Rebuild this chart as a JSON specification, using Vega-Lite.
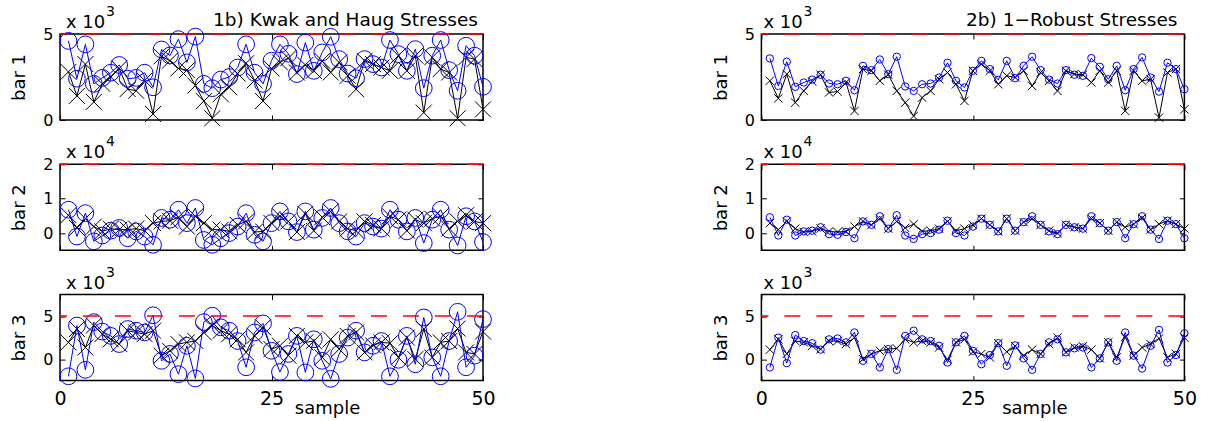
{
"$schema": "https://vega.github.io/schema/vega-lite/v6.json",
"padding": {"top": 4, "left": 10, "right": 5, "bottom": 5},
"background": "white",
"bounds": "flush",
"columns": 2,
"spacing": {"row": 44.3, "column": 278.4},
"config": {
 "font": "DejaVu Sans",
 "view": {"stroke": "black", "strokeWidth": 1.5},
 "axis": {"domain": false, "grid": false, "tickColor": "black", "tickSize": -5, "tickWidth": 1, "labelColor": "black", "titleColor": "black", "titleFontWeight": "normal", "labelFlush": false, "labelFont": "DejaVu Sans", "titleFont": "DejaVu Sans"},
 "axisX": {"labelFontSize": 19, "labelPadding": 14, "titleFontSize": 18},
 "axisY": {"labelFontSize": 16, "labelPadding": 12, "titleFontSize": 18, "titlePadding": 14},
 "text": {"font": "DejaVu Sans", "color": "black"}
},
"datasets": {
 "b1": [
  {"s":1,"lk":2800,"lb":4600,"rk":2280,"rb":3580},
  {"s":2,"lk":1400,"lb":2400,"rk":1260,"rb":1980},
  {"s":3,"lk":3250,"lb":4400,"rk":2670,"rb":3390},
  {"s":4,"lk":1050,"lb":2100,"rk":1010,"rb":1930},
  {"s":5,"lk":2100,"lb":2450,"rk":1690,"rb":2180},
  {"s":6,"lk":2500,"lb":2750,"rk":2240,"rb":2350},
  {"s":7,"lk":3000,"lb":3200,"rk":2630,"rb":2630},
  {"s":8,"lk":1800,"lb":2400,"rk":1600,"rb":2120},
  {"s":9,"lk":1700,"lb":2450,"rk":1650,"rb":2080},
  {"s":10,"lk":2300,"lb":2750,"rk":2180,"rb":2280},
  {"s":11,"lk":350,"lb":1900,"rk":530,"rb":1730},
  {"s":12,"lk":3700,"lb":4100,"rk":2960,"rb":3150},
  {"s":13,"lk":3450,"lb":3750,"rk":2860,"rb":2900},
  {"s":14,"lk":3000,"lb":4700,"rk":2280,"rb":3520},
  {"s":15,"lk":2900,"lb":3350,"rk":2630,"rb":2670},
  {"s":16,"lk":2000,"lb":4850,"rk":1690,"rb":3680},
  {"s":17,"lk":1100,"lb":2100,"rk":1010,"rb":1950},
  {"s":18,"lk":100,"lb":1850,"rk":230,"rb":1690},
  {"s":19,"lk":1500,"lb":2350,"rk":1300,"rb":2080},
  {"s":20,"lk":1900,"lb":2500,"rk":1690,"rb":2120},
  {"s":21,"lk":2700,"lb":3050,"rk":2370,"rb":2470},
  {"s":22,"lk":3300,"lb":4400,"rk":2760,"rb":3330},
  {"s":23,"lk":2300,"lb":2750,"rk":2080,"rb":2280},
  {"s":24,"lk":1100,"lb":2100,"rk":1110,"rb":1890},
  {"s":25,"lk":3000,"lb":3450,"rk":2860,"rb":2860},
  {"s":26,"lk":3350,"lb":4400,"rk":3250,"rb":3440},
  {"s":27,"lk":3600,"lb":3850,"rk":2860,"rb":2960},
  {"s":28,"lk":2760,"lb":2670,"rk":2080,"rb":2330},
  {"s":29,"lk":3200,"lb":4500,"rk":2570,"rb":3440},
  {"s":30,"lk":2860,"lb":2860,"rk":2470,"rb":2430},
  {"s":31,"lk":3440,"lb":3930,"rk":2860,"rb":3150},
  {"s":32,"lk":2760,"lb":4840,"rk":1980,"rb":3680},
  {"s":33,"lk":3350,"lb":3540,"rk":2760,"rb":2900},
  {"s":34,"lk":2570,"lb":2700,"rk":2280,"rb":2350},
  {"s":35,"lk":1790,"lb":2430,"rk":1690,"rb":2120},
  {"s":36,"lk":3440,"lb":3540,"rk":2860,"rb":2900},
  {"s":37,"lk":3250,"lb":3250,"rk":2670,"rb":2630},
  {"s":38,"lk":3050,"lb":3050,"rk":2630,"rb":2570},
  {"s":39,"lk":2860,"lb":4650,"rk":2180,"rb":3600},
  {"s":40,"lk":3740,"lb":3830,"rk":2860,"rb":3090},
  {"s":41,"lk":2860,"lb":2860,"rk":2180,"rb":2370},
  {"s":42,"lk":3740,"lb":4120,"rk":2860,"rb":3150},
  {"s":43,"lk":430,"lb":1850,"rk":530,"rb":1730},
  {"s":44,"lk":3640,"lb":3740,"rk":2860,"rb":2960},
  {"s":45,"lk":2960,"lb":4650,"rk":2280,"rb":3640},
  {"s":46,"lk":2760,"lb":2900,"rk":2370,"rb":2470},
  {"s":47,"lk":100,"lb":1700,"rk":140,"rb":1650},
  {"s":48,"lk":3640,"lb":4320,"rk":2760,"rb":3330},
  {"s":49,"lk":3540,"lb":3740,"rk":2960,"rb":2960},
  {"s":50,"lk":620,"lb":1930,"rk":620,"rb":1790}
 ],
 "b2": [
  {"s":1,"lk":5200,"lb":6800,"rk":2900,"rb":4600},
  {"s":2,"lk":1500,"lb":-1000,"rk":1000,"rb":-700},
  {"s":3,"lk":4200,"lb":5800,"rk":3400,"rb":3900},
  {"s":4,"lk":1900,"lb":-2400,"rk":1300,"rb":-700},
  {"s":5,"lk":500,"lb":-700,"rk":300,"rb":500},
  {"s":6,"lk":1300,"lb":700,"rk":500,"rb":700},
  {"s":7,"lk":1000,"lb":1500,"rk":1300,"rb":1700},
  {"s":8,"lk":1000,"lb":-1500,"rk":500,"rb":-300},
  {"s":9,"lk":1300,"lb":500,"rk":300,"rb":-500},
  {"s":10,"lk":700,"lb":-1000,"rk":500,"rb":300},
  {"s":11,"lk":2900,"lb":-3400,"rk":1900,"rb":-1500},
  {"s":12,"lk":3400,"lb":4400,"rk":3400,"rb":3400},
  {"s":13,"lk":3600,"lb":3900,"rk":2400,"rb":2400},
  {"s":14,"lk":4600,"lb":6800,"rk":4200,"rb":4900},
  {"s":15,"lk":1900,"lb":2900,"rk":1300,"rb":1300},
  {"s":16,"lk":4900,"lb":7300,"rk":3400,"rb":5200},
  {"s":17,"lk":2900,"lb":-2000,"rk":1500,"rb":-700},
  {"s":18,"lk":1000,"lb":-3400,"rk":2600,"rb":-1700},
  {"s":19,"lk":1000,"lb":-1500,"rk":500,"rb":-300},
  {"s":20,"lk":500,"lb":0,"rk":700,"rb":0},
  {"s":21,"lk":2400,"lb":1900,"rk":1300,"rb":1000},
  {"s":22,"lk":3400,"lb":5800,"rk":3400,"rb":3600},
  {"s":23,"lk":300,"lb":-500,"rk":700,"rb":0},
  {"s":24,"lk":500,"lb":-2400,"rk":1300,"rb":-700},
  {"s":25,"lk":2900,"lb":2900,"rk":2400,"rb":1900},
  {"s":26,"lk":4900,"lb":6300,"rk":4200,"rb":4200},
  {"s":27,"lk":3400,"lb":3400,"rk":2400,"rb":2400},
  {"s":28,"lk":300,"lb":300,"rk":500,"rb":500},
  {"s":29,"lk":5600,"lb":6300,"rk":4200,"rb":4200},
  {"s":30,"lk":700,"lb":1000,"rk":700,"rb":700},
  {"s":31,"lk":4600,"lb":4400,"rk":3200,"rb":3200},
  {"s":32,"lk":6300,"lb":7300,"rk":4200,"rb":4900},
  {"s":33,"lk":3400,"lb":2900,"rk":2400,"rb":2400},
  {"s":34,"lk":1300,"lb":500,"rk":700,"rb":500},
  {"s":35,"lk":700,"lb":-1000,"rk":0,"rb":-300},
  {"s":36,"lk":3400,"lb":2900,"rk":2400,"rb":2400},
  {"s":37,"lk":2400,"lb":1900,"rk":1700,"rb":1700},
  {"s":38,"lk":1300,"lb":1300,"rk":1300,"rb":1300},
  {"s":39,"lk":4900,"lb":6800,"rk":4200,"rb":4900},
  {"s":40,"lk":3900,"lb":3900,"rk":2900,"rb":2900},
  {"s":41,"lk":700,"lb":500,"rk":700,"rb":700},
  {"s":42,"lk":3900,"lb":4400,"rk":3200,"rb":3200},
  {"s":43,"lk":2900,"lb":-2900,"rk":1700,"rb":-1500},
  {"s":44,"lk":4200,"lb":3900,"rk":2600,"rb":2600},
  {"s":45,"lk":4900,"lb":6800,"rk":4400,"rb":4900},
  {"s":46,"lk":1300,"lb":1000,"rk":1000,"rb":1000},
  {"s":47,"lk":3400,"lb":-3600,"rk":2600,"rb":-1700},
  {"s":48,"lk":5200,"lb":4900,"rk":3600,"rb":3600},
  {"s":49,"lk":3400,"lb":3400,"rk":2600,"rb":2600},
  {"s":50,"lk":2900,"lb":-2600,"rk":1300,"rb":-1500}
 ],
 "b3": [
  {"s":1,"lk":1950,"lb":-2000,"rk":1100,"rb":-970},
  {"s":2,"lk":3500,"lb":3900,"rk":2300,"rb":2500},
  {"s":3,"lk":1350,"lb":-1250,"rk":600,"rb":-470},
  {"s":4,"lk":3900,"lb":4300,"rk":2100,"rb":2800},
  {"s":5,"lk":2900,"lb":3200,"rk":1950,"rb":2100},
  {"s":6,"lk":2300,"lb":2700,"rk":1550,"rb":1850},
  {"s":7,"lk":1750,"lb":1750,"rk":1160,"rb":1100},
  {"s":8,"lk":3300,"lb":3500,"rk":2100,"rb":2300},
  {"s":9,"lk":3100,"lb":3300,"rk":2100,"rb":2400},
  {"s":10,"lk":2900,"lb":3100,"rk":1750,"rb":1950},
  {"s":11,"lk":3300,"lb":5100,"rk":2500,"rb":3100},
  {"s":12,"lk":400,"lb":-200,"rk":0,"rb":-200},
  {"s":13,"lk":970,"lb":600,"rk":600,"rb":600},
  {"s":14,"lk":1750,"lb":-1750,"rk":970,"rb":-970},
  {"s":15,"lk":1950,"lb":1550,"rk":1160,"rb":1160},
  {"s":16,"lk":2100,"lb":-2250,"rk":1250,"rb":-1250},
  {"s":17,"lk":3100,"lb":4300,"rk":2300,"rb":2700},
  {"s":18,"lk":3900,"lb":5050,"rk":1950,"rb":3300},
  {"s":19,"lk":3300,"lb":3700,"rk":2100,"rb":2300},
  {"s":20,"lk":2900,"lb":3300,"rk":1950,"rb":2100},
  {"s":21,"lk":2300,"lb":2100,"rk":1350,"rb":1550},
  {"s":22,"lk":780,"lb":-950,"rk":-80,"rb":-400},
  {"s":23,"lk":2700,"lb":3100,"rk":1950,"rb":1950},
  {"s":24,"lk":3700,"lb":4150,"rk":2300,"rb":2700},
  {"s":25,"lk":1160,"lb":970,"rk":850,"rb":970},
  {"s":26,"lk":1550,"lb":-1500,"rk":600,"rb":-600},
  {"s":27,"lk":400,"lb":600,"rk":200,"rb":470},
  {"s":28,"lk":2700,"lb":2700,"rk":1850,"rb":1850},
  {"s":29,"lk":1950,"lb":-1550,"rk":850,"rb":-780},
  {"s":30,"lk":2100,"lb":2300,"rk":1500,"rb":1600},
  {"s":31,"lk":200,"lb":-200,"rk":400,"rb":80},
  {"s":32,"lk":2300,"lb":-2300,"rk":1100,"rb":-1250},
  {"s":33,"lk":1160,"lb":600,"rk":600,"rb":600},
  {"s":34,"lk":2700,"lb":2500,"rk":1750,"rb":1950},
  {"s":35,"lk":3100,"lb":3300,"rk":2500,"rb":2300},
  {"s":36,"lk":780,"lb":780,"rk":780,"rb":780},
  {"s":37,"lk":1600,"lb":1550,"rk":1350,"rb":1250},
  {"s":38,"lk":1950,"lb":2100,"rk":1500,"rb":1350},
  {"s":39,"lk":1850,"lb":-2000,"rk":1100,"rb":-970},
  {"s":40,"lk":200,"lb":-80,"rk":80,"rb":80},
  {"s":41,"lk":2500,"lb":2700,"rk":1950,"rb":1950},
  {"s":42,"lk":0,"lb":-600,"rk":200,"rb":-200},
  {"s":43,"lk":3500,"lb":4850,"rk":2600,"rb":3100},
  {"s":44,"lk":200,"lb":200,"rk":400,"rb":400},
  {"s":45,"lk":1950,"lb":-2000,"rk":1350,"rb":-1100},
  {"s":46,"lk":2100,"lb":2100,"rk":1750,"rb":1550},
  {"s":47,"lk":3550,"lb":5500,"rk":2400,"rb":3400},
  {"s":48,"lk":780,"lb":-950,"rk":200,"rb":-400},
  {"s":49,"lk":600,"lb":400,"rk":600,"rb":470},
  {"s":50,"lk":3200,"lb":4650,"rk":2500,"rb":3000}
 ]
},
"concat": [
 {
  "width": 423, "height": 86,
  "data": {"name": "b1"},
  "layer": [
   {"mark": {"type": "line", "color": "black", "strokeWidth": 1, "point": {"shape": "M-1,-1L1,1M-1,1L1,-1", "filled": false, "color": "black", "strokeWidth": 1, "size": 256}},
    "encoding": {
     "x": {"field": "s", "type": "quantitative", "scale": {"domain": [0, 50], "nice": false, "zero": false}, "axis": {"orient": "bottom", "values": [0, 25, 50], "labels": false, "title": null}},
     "y": {"field": "lk", "type": "quantitative", "scale": {"domain": [0, 5000], "nice": false, "zero": false}, "axis": {"orient": "left", "values": [0, 5000], "labelExpr": "datum.value / 1000", "title": "bar 1"}}}},
   {"mark": {"type": "line", "color": "#0000ff", "strokeWidth": 1, "point": {"shape": "circle", "filled": false, "color": "#0000ff", "strokeWidth": 1, "size": 280}},
    "encoding": {
     "x": {"field": "s", "type": "quantitative", "axis": {"orient": "top", "values": [0, 25, 50], "labels": false, "title": null}},
     "y": {"field": "lb", "type": "quantitative", "axis": {"orient": "right", "values": [0, 5000], "labels": false, "title": null}}}},
   {"data": {"values": [{}]}, "mark": {"type": "rule", "color": "#ff0000", "strokeWidth": 1.5, "strokeDash": [16, 16]}, "encoding": {"y": {"datum": 5000, "type": "quantitative", "axis": null}}},
   {"data": {"values": [{}]}, "mark": {"type": "text", "text": "x 10", "align": "left", "baseline": "alphabetic", "dx": 6, "dy": -6, "fontSize": 18}, "encoding": {"x": {"datum": 0, "type": "quantitative", "axis": null}, "y": {"datum": 5000, "type": "quantitative", "axis": null}}},
   {"data": {"values": [{}]}, "mark": {"type": "text", "text": "3", "align": "left", "baseline": "alphabetic", "dx": 46, "dy": -18, "fontSize": 14}, "encoding": {"x": {"datum": 0, "type": "quantitative", "axis": null}, "y": {"datum": 5000, "type": "quantitative", "axis": null}}},
   {"data": {"values": [{}]}, "mark": {"type": "text", "text": "1b) Kwak and Haug Stresses", "align": "right", "baseline": "alphabetic", "dx": -5, "dy": -8, "fontSize": 18.5}, "encoding": {"x": {"datum": 50, "type": "quantitative", "axis": null}, "y": {"datum": 5000, "type": "quantitative", "axis": null}}}
  ],
  "resolve": {"axis": {"x": "independent", "y": "independent"}}
 },
 {
  "width": 423, "height": 86,
  "data": {"name": "b1"},
  "layer": [
   {"mark": {"type": "line", "color": "black", "strokeWidth": 1, "point": {"shape": "M-1,-1L1,1M-1,1L1,-1", "filled": false, "color": "black", "strokeWidth": 1, "size": 70}},
    "encoding": {
     "x": {"field": "s", "type": "quantitative", "scale": {"domain": [0, 50], "nice": false, "zero": false}, "axis": {"orient": "bottom", "values": [0, 25, 50], "labels": false, "title": null}},
     "y": {"field": "rk", "type": "quantitative", "scale": {"domain": [0, 5000], "nice": false, "zero": false}, "axis": {"orient": "left", "values": [0, 5000], "labelExpr": "datum.value / 1000", "title": "bar 1"}}}},
   {"mark": {"type": "line", "color": "#0000ff", "strokeWidth": 1, "point": {"shape": "circle", "filled": false, "color": "#0000ff", "strokeWidth": 1, "size": 54}},
    "encoding": {
     "x": {"field": "s", "type": "quantitative", "axis": {"orient": "top", "values": [0, 25, 50], "labels": false, "title": null}},
     "y": {"field": "rb", "type": "quantitative", "axis": {"orient": "right", "values": [0, 5000], "labels": false, "title": null}}}},
   {"data": {"values": [{}]}, "mark": {"type": "rule", "color": "#ff0000", "strokeWidth": 1.5, "strokeDash": [16, 16]}, "encoding": {"y": {"datum": 5000, "type": "quantitative", "axis": null}}},
   {"data": {"values": [{}]}, "mark": {"type": "text", "text": "x 10", "align": "left", "baseline": "alphabetic", "dx": 2, "dy": -6, "fontSize": 18}, "encoding": {"x": {"datum": 0, "type": "quantitative", "axis": null}, "y": {"datum": 5000, "type": "quantitative", "axis": null}}},
   {"data": {"values": [{}]}, "mark": {"type": "text", "text": "3", "align": "left", "baseline": "alphabetic", "dx": 42, "dy": -18, "fontSize": 14}, "encoding": {"x": {"datum": 0, "type": "quantitative", "axis": null}, "y": {"datum": 5000, "type": "quantitative", "axis": null}}},
   {"data": {"values": [{}]}, "mark": {"type": "text", "text": "2b) 1\u2212Robust Stresses", "align": "right", "baseline": "alphabetic", "dx": -7, "dy": -8, "fontSize": 18.5}, "encoding": {"x": {"datum": 50, "type": "quantitative", "axis": null}, "y": {"datum": 5000, "type": "quantitative", "axis": null}}}
  ],
  "resolve": {"axis": {"x": "independent", "y": "independent"}}
 },
 {
  "width": 423, "height": 86,
  "data": {"name": "b2"},
  "layer": [
   {"mark": {"type": "line", "color": "black", "strokeWidth": 1, "point": {"shape": "M-1,-1L1,1M-1,1L1,-1", "filled": false, "color": "black", "strokeWidth": 1, "size": 256}},
    "encoding": {
     "x": {"field": "s", "type": "quantitative", "scale": {"domain": [0, 50], "nice": false, "zero": false}, "axis": {"orient": "bottom", "values": [0, 25, 50], "labels": false, "title": null}},
     "y": {"field": "lk", "type": "quantitative", "scale": {"domain": [-5000, 20000], "nice": false, "zero": false}, "axis": {"orient": "left", "values": [0, 10000, 20000], "labelExpr": "datum.value / 10000", "title": "bar 2"}}}},
   {"mark": {"type": "line", "color": "#0000ff", "strokeWidth": 1, "point": {"shape": "circle", "filled": false, "color": "#0000ff", "strokeWidth": 1, "size": 280}},
    "encoding": {
     "x": {"field": "s", "type": "quantitative", "axis": {"orient": "top", "values": [0, 25, 50], "labels": false, "title": null}},
     "y": {"field": "lb", "type": "quantitative", "axis": {"orient": "right", "values": [0, 10000, 20000], "labels": false, "title": null}}}},
   {"data": {"values": [{}]}, "mark": {"type": "rule", "color": "#ff0000", "strokeWidth": 1.5, "strokeDash": [16, 16]}, "encoding": {"y": {"datum": 20000, "type": "quantitative", "axis": null}}},
   {"data": {"values": [{}]}, "mark": {"type": "text", "text": "x 10", "align": "left", "baseline": "alphabetic", "dx": 6, "dy": -6, "fontSize": 18}, "encoding": {"x": {"datum": 0, "type": "quantitative", "axis": null}, "y": {"datum": 20000, "type": "quantitative", "axis": null}}},
   {"data": {"values": [{}]}, "mark": {"type": "text", "text": "4", "align": "left", "baseline": "alphabetic", "dx": 46, "dy": -18, "fontSize": 14}, "encoding": {"x": {"datum": 0, "type": "quantitative", "axis": null}, "y": {"datum": 20000, "type": "quantitative", "axis": null}}}
  ],
  "resolve": {"axis": {"x": "independent", "y": "independent"}}
 },
 {
  "width": 423, "height": 86,
  "data": {"name": "b2"},
  "layer": [
   {"mark": {"type": "line", "color": "black", "strokeWidth": 1, "point": {"shape": "M-1,-1L1,1M-1,1L1,-1", "filled": false, "color": "black", "strokeWidth": 1, "size": 70}},
    "encoding": {
     "x": {"field": "s", "type": "quantitative", "scale": {"domain": [0, 50], "nice": false, "zero": false}, "axis": {"orient": "bottom", "values": [0, 25, 50], "labels": false, "title": null}},
     "y": {"field": "rk", "type": "quantitative", "scale": {"domain": [-5000, 20000], "nice": false, "zero": false}, "axis": {"orient": "left", "values": [0, 10000, 20000], "labelExpr": "datum.value / 10000", "title": "bar 2"}}}},
   {"mark": {"type": "line", "color": "#0000ff", "strokeWidth": 1, "point": {"shape": "circle", "filled": false, "color": "#0000ff", "strokeWidth": 1, "size": 54}},
    "encoding": {
     "x": {"field": "s", "type": "quantitative", "axis": {"orient": "top", "values": [0, 25, 50], "labels": false, "title": null}},
     "y": {"field": "rb", "type": "quantitative", "axis": {"orient": "right", "values": [0, 10000, 20000], "labels": false, "title": null}}}},
   {"data": {"values": [{}]}, "mark": {"type": "rule", "color": "#ff0000", "strokeWidth": 1.5, "strokeDash": [16, 16]}, "encoding": {"y": {"datum": 20000, "type": "quantitative", "axis": null}}},
   {"data": {"values": [{}]}, "mark": {"type": "text", "text": "x 10", "align": "left", "baseline": "alphabetic", "dx": 2, "dy": -6, "fontSize": 18}, "encoding": {"x": {"datum": 0, "type": "quantitative", "axis": null}, "y": {"datum": 20000, "type": "quantitative", "axis": null}}},
   {"data": {"values": [{}]}, "mark": {"type": "text", "text": "4", "align": "left", "baseline": "alphabetic", "dx": 42, "dy": -18, "fontSize": 14}, "encoding": {"x": {"datum": 0, "type": "quantitative", "axis": null}, "y": {"datum": 20000, "type": "quantitative", "axis": null}}}
  ],
  "resolve": {"axis": {"x": "independent", "y": "independent"}}
 },
 {
  "width": 423, "height": 86,
  "data": {"name": "b3"},
  "layer": [
   {"mark": {"type": "line", "color": "black", "strokeWidth": 1, "point": {"shape": "M-1,-1L1,1M-1,1L1,-1", "filled": false, "color": "black", "strokeWidth": 1, "size": 256}},
    "encoding": {
     "x": {"field": "s", "type": "quantitative", "scale": {"domain": [0, 50], "nice": false, "zero": false}, "axis": {"orient": "bottom", "values": [0, 25, 50], "labels": true, "title": "sample", "titleX": 267, "titleY": 33, "titleBaseline": "alphabetic"}},
     "y": {"field": "lk", "type": "quantitative", "scale": {"domain": [-2500, 7500], "nice": false, "zero": false}, "axis": {"orient": "left", "values": [0, 5000], "labelExpr": "datum.value / 1000", "title": "bar 3"}}}},
   {"mark": {"type": "line", "color": "#0000ff", "strokeWidth": 1, "point": {"shape": "circle", "filled": false, "color": "#0000ff", "strokeWidth": 1, "size": 280}},
    "encoding": {
     "x": {"field": "s", "type": "quantitative", "axis": {"orient": "top", "values": [0, 25, 50], "labels": false, "title": null}},
     "y": {"field": "lb", "type": "quantitative", "axis": {"orient": "right", "values": [0, 5000], "labels": false, "title": null}}}},
   {"data": {"values": [{}]}, "mark": {"type": "rule", "color": "#ff0000", "strokeWidth": 1.5, "strokeDash": [16, 16]}, "encoding": {"y": {"datum": 5000, "type": "quantitative", "axis": null}}},
   {"data": {"values": [{}]}, "mark": {"type": "text", "text": "x 10", "align": "left", "baseline": "alphabetic", "dx": 6, "dy": -6, "fontSize": 18}, "encoding": {"x": {"datum": 0, "type": "quantitative", "axis": null}, "y": {"datum": 7500, "type": "quantitative", "axis": null}}},
   {"data": {"values": [{}]}, "mark": {"type": "text", "text": "3", "align": "left", "baseline": "alphabetic", "dx": 46, "dy": -18, "fontSize": 14}, "encoding": {"x": {"datum": 0, "type": "quantitative", "axis": null}, "y": {"datum": 7500, "type": "quantitative", "axis": null}}}
  ],
  "resolve": {"axis": {"x": "independent", "y": "independent"}}
 },
 {
  "width": 423, "height": 86,
  "data": {"name": "b3"},
  "layer": [
   {"mark": {"type": "line", "color": "black", "strokeWidth": 1, "point": {"shape": "M-1,-1L1,1M-1,1L1,-1", "filled": false, "color": "black", "strokeWidth": 1, "size": 70}},
    "encoding": {
     "x": {"field": "s", "type": "quantitative", "scale": {"domain": [0, 50], "nice": false, "zero": false}, "axis": {"orient": "bottom", "values": [0, 25, 50], "labels": true, "title": "sample", "titleX": 273, "titleY": 33, "titleBaseline": "alphabetic"}},
     "y": {"field": "rk", "type": "quantitative", "scale": {"domain": [-2500, 7500], "nice": false, "zero": false}, "axis": {"orient": "left", "values": [0, 5000], "labelExpr": "datum.value / 1000", "title": "bar 3"}}}},
   {"mark": {"type": "line", "color": "#0000ff", "strokeWidth": 1, "point": {"shape": "circle", "filled": false, "color": "#0000ff", "strokeWidth": 1, "size": 54}},
    "encoding": {
     "x": {"field": "s", "type": "quantitative", "axis": {"orient": "top", "values": [0, 25, 50], "labels": false, "title": null}},
     "y": {"field": "rb", "type": "quantitative", "axis": {"orient": "right", "values": [0, 5000], "labels": false, "title": null}}}},
   {"data": {"values": [{}]}, "mark": {"type": "rule", "color": "#ff0000", "strokeWidth": 1.5, "strokeDash": [16, 16]}, "encoding": {"y": {"datum": 5000, "type": "quantitative", "axis": null}}},
   {"data": {"values": [{}]}, "mark": {"type": "text", "text": "x 10", "align": "left", "baseline": "alphabetic", "dx": 2, "dy": -6, "fontSize": 18}, "encoding": {"x": {"datum": 0, "type": "quantitative", "axis": null}, "y": {"datum": 7500, "type": "quantitative", "axis": null}}},
   {"data": {"values": [{}]}, "mark": {"type": "text", "text": "3", "align": "left", "baseline": "alphabetic", "dx": 42, "dy": -18, "fontSize": 14}, "encoding": {"x": {"datum": 0, "type": "quantitative", "axis": null}, "y": {"datum": 7500, "type": "quantitative", "axis": null}}}
  ],
  "resolve": {"axis": {"x": "independent", "y": "independent"}}
 }
]
}
